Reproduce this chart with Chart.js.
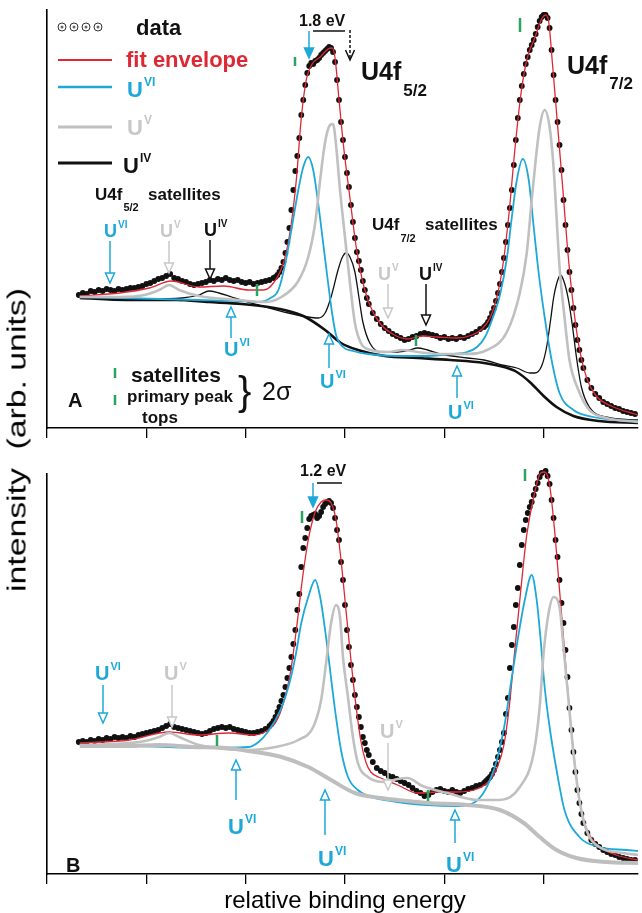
<!DOCTYPE html>
<html>
<head>
<meta charset="utf-8">
<script src="https://cdn.jsdelivr.net/npm/chart.js@4.4.1/dist/chart.umd.min.js"></script>
<style>
  body { margin: 0; background: #fff; }
  #wrap { position: relative; width: 642px; height: 913px; overflow: hidden; }
  canvas { position: absolute; left: 0; }
  #chartA { top: 0; }
  #chartB { top: 440px; }
  #ylabel {
    position: absolute; left: 17px; top: 440px; white-space: nowrap;
    font: 25px "Liberation Sans", Arial, sans-serif; color: #000;
    transform: translate(-50%, -50%) rotate(-90deg) scaleX(1.35);
  }
</style>
</head>
<body>
<div id="wrap">
  <canvas id="chartA" width="642" height="440"></canvas>
  <canvas id="chartB" width="642" height="473"></canvas>
  <div id="ylabel">intensity&nbsp; (arb. units)</div>
</div>
<script>
// x = relative binding energy (eV, arbitrary zero), y = intensity (arb. units)
const xTicks = [0, 5, 10, 15, 20, 25];

// ---- panel A ----
const dataA = [
  [1.6,133],[1.8,135],[2.0,134],[2.2,137],[2.4,136],[2.6,138],[2.8,137],[3.0,139],[3.2,138],[3.4,137],
  [3.6,139],[3.8,138],[4.0,139],[4.2,140],[4.4,140],[4.6,141],[4.8,142],[5.0,144],[5.2,145],[5.4,147],
  [5.6,149],[5.8,150],[6.0,152],[6.2,154],[6.4,150],[6.6,149],[6.8,147],[7.0,146],[7.2,144],[7.4,143],
  [7.6,144],[7.8,145],[8.0,146],[8.2,148],[8.4,147],[8.6,149],[8.8,148],[9.0,150],[9.2,148],[9.4,147],
  [9.6,148],[9.8,146],[10.0,145],[10.2,146],[10.4,144],[10.6,145],[10.8,146],[11.0,147],[11.2,148],[11.4,150],
  [11.5,151],[11.6,153],[11.7,156],[11.8,160],[11.9,166],[12.0,175],[12.1,186],[12.2,200],[12.3,218],[12.4,238],
  [12.5,257],[12.6,272],[12.7,290],[12.8,313],[12.9,328],[13.0,343],[13.1,355],[13.2,362],[13.3,365],[13.4,364],
  [13.5,367],[13.6,368],[13.7,370],[13.8,373],[13.9,375],[14.0,377],[14.1,379],[14.2,381],[14.3,380],[14.4,376],
  [14.5,366],[14.6,348],[14.7,328],[14.8,306],[14.9,288],[15.0,271],[15.1,255],[15.2,241],[15.3,223],[15.4,206],
  [15.5,190],[15.6,176],[15.7,167],[15.8,158],[15.9,147],[16.0,138],[16.1,130],[16.2,124],[16.4,115],[16.6,109],
  [16.8,104],[17.0,100],[17.2,97],[17.4,94],[17.6,92],[17.8,90],[18.0,88],[18.2,89],[18.4,91],[18.6,92],
  [18.8,94],[19.0,95],[19.2,94],[19.4,93],[19.6,92],[19.8,90],[20.0,91],[20.2,89],[20.4,90],[20.6,89],
  [20.8,91],[21.0,90],[21.2,92],[21.4,94],[21.6,96],[21.8,99],[22.0,101],[22.1,103],[22.2,106],[22.3,110],
  [22.4,115],[22.5,120],[22.6,127],[22.7,135],[22.8,144],[22.9,156],[23.0,170],[23.1,186],[23.2,203],[23.3,220],
  [23.4,238],[23.5,263],[23.6,288],[23.7,310],[23.8,328],[23.9,342],[24.0,354],[24.1,364],[24.2,371],[24.3,378],
  [24.4,383],[24.5,388],[24.6,394],[24.7,401],[24.8,407],[24.9,411],[25.0,413],[25.1,413],[25.2,410],[25.3,400],
  [25.4,378],[25.5,353],[25.6,328],[25.7,306],[25.8,283],[25.9,258],[26.0,228],[26.1,203],[26.2,178],[26.3,156],
  [26.4,138],[26.5,120],[26.6,103],[26.7,88],[26.8,78],[26.9,68],[27.0,60],[27.2,48],[27.4,40],[27.6,34],
  [27.8,30],[28.0,26],[28.2,24],[28.4,22],[28.6,20],[28.8,19],[29.0,17],[29.2,16],[29.4,15],[29.6,14]
];
const fitA = [
  [1.65,132],[3.65,135],[5.15,140],[6.25,147],[7.65,141],[8.9,142],[10.15,138],[10.9,138],[11.4,145],[11.9,165],
  [12.25,198],[12.55,248],[12.8,310],[13.05,348],[13.35,364],[13.75,371],[14.15,379],[14.35,380],[14.5,370],[14.7,328],
  [14.95,278],[15.25,230],[15.55,183],[15.85,150],[16.25,123],[16.75,105],[17.4,94],[18.15,89],[18.9,92],[19.65,91],
  [20.65,90],[21.4,93],[21.9,99],[22.3,110],[22.65,131],[22.95,163],[23.25,213],[23.55,278],[23.85,333],[24.15,368],
  [24.55,390],[24.9,409],[25.1,413],[25.25,407],[25.45,363],[25.7,303],[25.95,243],[26.2,180],[26.45,130],[26.75,85],
  [27.15,51],[27.65,32],[28.4,22],[29.75,13]
];
const u6A = [
  [1.65,131],[3.65,130],[5.65,129],[7.65,128],[9.65,127],[10.65,126],[11.25,130],[11.65,138],[12.0,165],[12.3,198],
  [12.65,238],[12.9,261],[13.15,271],[13.4,258],[13.65,225],[13.9,185],[14.15,145],[14.35,115],[14.55,93],[14.9,81],
  [15.4,77],[16.15,74],[17.65,72],[19.15,72],[20.4,74],[21.15,76],[21.65,81],[22.05,91],[22.4,108],[22.8,133],
  [23.15,170],[23.4,211],[23.65,248],[23.95,269],[24.25,248],[24.5,201],[24.75,155],[25.05,111],[25.4,68],[25.8,35],
  [26.5,18],[27.5,11],[28.65,8],[29.75,7]
];
const u5A = [
  [1.65,131],[3.65,131],[4.9,133],[5.65,138],[6.15,143],[6.65,138],[7.65,132],[9.65,128],[11.0,126],[11.8,131],
  [12.65,147],[13.15,171],[13.5,205],[13.75,248],[14.0,286],[14.25,303],[14.4,304],[14.55,283],[14.75,238],[15.0,191],
  [15.25,145],[15.5,105],[15.8,85],[16.3,78],[17.15,76],[17.9,78],[18.65,76],[19.9,74],[21.15,74],[22.15,78],
  [23.15,96],[23.8,135],[24.15,175],[24.4,228],[24.6,268],[24.8,301],[25.05,318],[25.3,301],[25.5,261],[25.65,211],
  [25.8,161],[26.05,111],[26.3,68],[26.75,38],[27.3,18],[28.15,10],[29.75,6]
];
const u4A = [
  [1.65,131],[5.15,129],[6.8,130],[7.65,133],[8.15,137],[8.65,135],[9.3,131],[10.65,123],[12.15,115],[13.15,111],
  [13.65,110],[14.0,115],[14.3,131],[14.65,158],[14.85,170],[15.05,175],[15.25,171],[15.5,156],[15.7,131],[15.9,106],
  [16.25,85],[16.8,76],[17.65,76],[18.25,78],[18.65,80],[19.15,78],[19.8,74],[21.15,70],[22.0,68],[22.9,63],
  [23.65,60],[24.3,55],[24.55,55],[24.9,62],[25.15,81],[25.35,108],[25.5,130],[25.65,144],[25.85,153],[26.05,145],
  [26.25,128],[26.45,102],[26.65,71],[26.9,41],[27.3,21],[28.15,11],[29.75,8]
];
const bgA = [
  [1.65,130],[4.0,128],[6.5,128],[8.15,126],[9.8,124],[11.15,121],[12.15,117],[13.0,111],[14.0,98],[14.8,85],
  [15.65,78],[17.0,72],[18.65,70],[20.3,68],[22.0,65],[23.0,61],[23.65,56],[24.3,46],[25.0,32],[25.65,21],
  [26.5,12],[27.8,7],[29.75,5]
];

// ---- panel B ----
const dataB = [
  [1.6,132],[1.8,133],[2.0,132],[2.2,134],[2.4,133],[2.6,135],[2.8,134],[3.0,136],[3.2,135],[3.4,137],
  [3.6,136],[3.8,137],[4.0,136],[4.2,138],[4.4,137],[4.6,139],[4.8,140],[5.0,141],[5.2,142],[5.4,143],
  [5.6,144],[5.8,146],[6.0,148],[6.2,150],[6.4,147],[6.6,146],[6.8,145],[7.0,144],[7.2,143],[7.4,142],
  [7.6,141],[7.8,140],[8.0,141],[8.2,143],[8.4,145],[8.6,146],[8.8,147],[9.0,146],[9.2,147],[9.4,145],
  [9.6,144],[9.8,143],[10.0,142],[10.2,141],[10.4,141],[10.6,142],[10.8,143],[11.0,145],[11.2,148],[11.3,150],
  [11.4,153],[11.5,157],[11.6,162],[11.7,167],[11.8,173],[11.9,179],[12.0,187],[12.1,196],[12.2,206],[12.3,217],
  [12.4,230],[12.5,244],[12.6,264],[12.7,280],[12.8,307],[12.9,326],[13.0,336],[13.1,346],[13.2,355],[13.3,358],
  [13.4,359],[13.5,360],[13.6,356],[13.7,358],[13.8,362],[13.9,367],[14.0,370],[14.1,372],[14.2,373],[14.3,371],
  [14.4,366],[14.5,356],[14.6,344],[14.7,334],[14.8,312],[14.9,294],[15.0,269],[15.1,244],[15.2,227],[15.3,209],
  [15.4,194],[15.5,179],[15.6,167],[15.7,157],[15.8,147],[15.9,137],[16.0,131],[16.1,124],[16.2,119],[16.4,112],
  [16.6,106],[16.8,103],[17.0,101],[17.2,98],[17.4,97],[17.6,95],[17.8,93],[18.0,91],[18.2,89],[18.4,86],
  [18.6,83],[18.8,81],[19.0,78],[19.2,79],[19.4,82],[19.6,84],[19.8,85],[20.0,83],[20.2,82],[20.4,84],
  [20.6,82],[20.8,81],[21.0,83],[21.2,85],[21.4,86],[21.6,88],[21.8,89],[22.0,91],[22.1,93],[22.2,95],
  [22.3,97],[22.4,100],[22.5,104],[22.6,110],[22.7,117],[22.8,124],[22.9,132],[23.0,141],[23.1,160],[23.2,176],
  [23.3,206],[23.4,229],[23.5,247],[23.6,269],[23.7,286],[23.8,309],[23.9,329],[24.0,344],[24.1,354],[24.2,361],
  [24.3,367],[24.4,372],[24.5,379],[24.6,385],[24.7,391],[24.8,397],[24.9,401],[25.0,404],[25.1,403],[25.2,398],
  [25.3,390],[25.4,374],[25.5,356],[25.6,334],[25.7,317],[25.8,294],[25.9,271],[26.0,251],[26.1,224],[26.2,197],
  [26.3,166],[26.4,144],[26.5,122],[26.6,102],[26.7,84],[26.8,71],[26.9,60],[27.0,51],[27.2,41],[27.4,34],
  [27.6,30],[27.8,27],[28.0,24],[28.2,22],[28.4,20],[28.6,19],[28.8,17],[29.0,16],[29.2,15],[29.4,14],[29.6,14]
];
const fitB = [
  [1.65,131],[4.15,134],[6.15,142],[7.65,139],[9.15,141],[10.4,139],[11.05,143],[11.55,153],[11.9,171],[12.25,201],
  [12.55,244],[12.85,294],[13.15,334],[13.5,362],[13.8,372],[14.05,374],[14.3,371],[14.55,354],[14.8,314],[15.05,264],
  [15.3,214],[15.55,169],[15.8,133],[16.05,112],[16.3,102],[16.8,96],[17.65,89],[18.65,81],[19.65,82],[20.65,82],
  [21.65,85],[22.25,93],[22.65,106],[23.0,129],[23.25,164],[23.55,224],[23.85,284],[24.15,339],[24.5,377],[24.85,401],
  [25.05,402],[25.3,389],[25.55,344],[25.8,284],[26.05,224],[26.3,164],[26.55,114],[26.8,74],[27.15,46],[27.65,30],
  [28.65,19],[29.75,14]
];
const u6B = [
  [1.65,129],[4.65,128],[7.65,126],[10.15,127],[10.65,132],[11.15,143],[11.75,164],[12.15,187],[12.5,217],[12.8,251],
  [13.15,277],[13.5,294],[13.75,277],[14.0,244],[14.25,204],[14.5,164],[14.8,124],[15.15,97],[15.65,84],[16.3,77],
  [17.65,72],[19.15,69],[20.65,68],[21.55,72],[22.0,82],[22.3,94],[22.65,114],[23.05,151],[23.4,197],[23.75,241],
  [24.05,274],[24.4,299],[24.65,274],[24.85,234],[25.05,187],[25.3,147],[25.65,104],[26.05,64],[26.8,37],[27.8,27],
  [29.15,24],[29.75,23]
];
const u5B = [
  [1.65,129],[4.65,132],[5.65,137],[6.15,141],[6.65,137],[7.65,129],[10.15,124],[11.5,127],[12.65,134],[13.4,147],
  [13.8,174],[14.05,211],[14.3,251],[14.55,269],[14.75,257],[14.9,217],[15.15,177],[15.4,137],[15.65,111],[16.15,97],
  [17.0,92],[17.65,95],[18.15,96],[18.9,88],[20.15,81],[21.65,74],[22.8,74],[23.8,87],[24.5,121],[24.8,167],
  [25.0,221],[25.25,261],[25.5,277],[25.8,267],[26.0,227],[26.25,174],[26.5,121],[26.8,74],[27.15,44],[27.8,27],
  [29.0,21],[29.75,19]
];
const bgB = [
  [1.65,128],[4.0,128],[5.65,129],[7.3,127],[9.0,126],[10.15,123],[11.8,117],[13.15,107],[14.3,94],[15.5,81],
  [16.8,76],[17.65,74],[19.15,71],[21.15,69],[22.8,64],[24.0,51],[24.8,37],[25.65,24],[26.65,16],[28.15,12],
  [29.75,11]
];

const FONT = '"Liberation Sans", Arial, Helvetica, sans-serif';
const CYAN = "rgb(30,168,216)";
const GRAY = "rgb(192,192,192)";
const RED = "rgb(222,40,52)";
const GREEN = "rgb(40,165,95)";

const pts = (arr) => arr.map(([x, y]) => ({ x, y }));

function curve(arr, color, width) {
  return {
    data: pts(arr), showLine: true, borderColor: color, borderWidth: width,
    pointRadius: 0, cubicInterpolationMode: "monotone", clip: false,
  };
}
function dots(arr) {
  return {
    data: pts(arr), showLine: false, pointRadius: 2.9, pointBackgroundColor: "#111",
    pointBorderWidth: 0, clip: false,
  };
}

// ---- drawing helpers for the annotations ----
function txt(ctx, s, x, y, size, color, bold) {
  ctx.font = (bold === false ? "" : "bold ") + size + "px " + FONT;
  ctx.fillStyle = color;
  ctx.fillText(s, x, y);
  return ctx.measureText(s).width;
}
function uLabel(ctx, x, y, sup, color, size) {
  const w = txt(ctx, "U", x, y, size, color);
  txt(ctx, sup, x + w + 1, y - size * 0.5, Math.round(size * 0.55), color);
}
function arrow(ctx, x, yFrom, yTo, color, head, dash) {
  const dir = Math.sign(yTo - yFrom), hl = 10, hw = 4.5;
  ctx.save();
  ctx.strokeStyle = color;
  ctx.lineWidth = 1.5;
  if (dash) ctx.setLineDash(dash);
  ctx.beginPath();
  ctx.moveTo(x, yFrom);
  ctx.lineTo(x, head === "v" ? yTo : yTo - dir * hl);
  ctx.stroke();
  ctx.setLineDash([]);
  ctx.beginPath();
  if (head === "v") {
    ctx.moveTo(x - hw, yTo - dir * hl); ctx.lineTo(x, yTo); ctx.lineTo(x + hw, yTo - dir * hl);
    ctx.stroke();
  } else {
    ctx.moveTo(x, yTo); ctx.lineTo(x - hw, yTo - dir * hl); ctx.lineTo(x + hw, yTo - dir * hl);
    ctx.closePath();
    ctx.fillStyle = head === "fill" ? color : "#fff";
    ctx.fill();
    ctx.stroke();
  }
  ctx.restore();
}
function tick(ctx, x, y1, y2) {
  ctx.save();
  ctx.strokeStyle = GREEN; ctx.lineWidth = 2.5;
  ctx.beginPath(); ctx.moveTo(x, y1); ctx.lineTo(x, y2); ctx.stroke();
  ctx.restore();
}
function hline(ctx, x1, x2, y, color, w) {
  ctx.save();
  ctx.strokeStyle = color; ctx.lineWidth = w;
  ctx.beginPath(); ctx.moveTo(x1, y); ctx.lineTo(x2, y); ctx.stroke();
  ctx.restore();
}

function axes(ymax, xHeight) {
  return {
    x: {
      type: "linear", min: 0, max: 29.75,
      afterBuildTicks: (s) => { s.ticks = xTicks.map((v) => ({ value: v })); },
      afterFit: (s) => { s.height = xHeight; },
      ticks: { display: false },
      grid: { drawOnChartArea: false, drawTicks: true, tickLength: 10, color: "#000", lineWidth: 1.3 },
      border: { color: "#000", width: 1.6 },
    },
    y: {
      type: "linear", min: 0, max: ymax,
      afterFit: (s) => { s.width = 0; },
      ticks: { display: false },
      grid: { display: false },
      border: { color: "#000", width: 1.6 },
    },
  };
}

const annotA = {
  id: "annotA",
  afterDatasetsDraw(chart) {
    const ctx = chart.ctx;
    ctx.save();
    ctx.textBaseline = "alphabetic";
    // legend
    ctx.strokeStyle = "#333"; ctx.lineWidth = 1;
    [62, 74, 86, 98].forEach((cx) => {
      ctx.beginPath(); ctx.arc(cx, 27, 4, 0, 2 * Math.PI); ctx.fillStyle = "#fff"; ctx.fill(); ctx.stroke();
      ctx.beginPath(); ctx.arc(cx, 27, 1.5, 0, 2 * Math.PI); ctx.fillStyle = "#666"; ctx.fill();
    });
    txt(ctx, "data", 136, 35, 22, "#111");
    hline(ctx, 58, 112, 60, RED, 2);
    txt(ctx, "fit envelope", 126, 67, 22, RED);
    hline(ctx, 58, 112, 87, CYAN, 2.5);
    uLabel(ctx, 127, 97, "VI", CYAN, 22);
    hline(ctx, 58, 112, 127, GRAY, 3);
    uLabel(ctx, 127, 135, "V", "rgb(200,200,200)", 22);
    hline(ctx, 58, 112, 163, "#111", 3);
    uLabel(ctx, 123, 173, "IV", "#111", 22);

    // 1.8 eV splitting
    txt(ctx, "1.8 eV", 299, 26, 16, "#111");
    hline(ctx, 313, 345, 31, "#111", 1.5);
    arrow(ctx, 309, 31, 58, CYAN, "fill");
    arrow(ctx, 350, 30, 60, "#111", "v", [3, 2]);
    tick(ctx, 295, 57, 66);
    tick(ctx, 520, 18, 32);

    // peak labels
    let w = txt(ctx, "U4f", 361, 80, 25, "#111");
    txt(ctx, "5/2", 361 + w + 2, 96, 17, "#111");
    w = txt(ctx, "U4f", 567, 74, 25, "#111");
    txt(ctx, "7/2", 567 + w + 2, 89, 17, "#111");

    w = txt(ctx, "U4f", 95, 200, 17, "#111");
    txt(ctx, "5/2", 95 + w + 1, 211, 11, "#111");
    txt(ctx, "satellites", 148, 200, 17, "#111");
    w = txt(ctx, "U4f", 372, 230, 17, "#111");
    txt(ctx, "7/2", 372 + w + 1, 242, 11, "#111");
    txt(ctx, "satellites", 425, 230, 17, "#111");

    // satellite arrows
    uLabel(ctx, 104, 237, "VI", CYAN, 18);
    arrow(ctx, 110, 241, 283, CYAN, "open");
    uLabel(ctx, 160, 237, "V", "rgb(200,200,200)", 18);
    arrow(ctx, 169, 241, 273, "rgb(200,200,200)", "open");
    uLabel(ctx, 204, 236, "IV", "#111", 18);
    arrow(ctx, 210, 240, 279, "#111", "open");
    uLabel(ctx, 378, 280, "V", "rgb(200,200,200)", 18);
    arrow(ctx, 388, 284, 318, "rgb(200,200,200)", "open");
    uLabel(ctx, 419, 280, "IV", "#111", 18);
    arrow(ctx, 426, 284, 325, "#111", "open");
    tick(ctx, 257, 284, 296);
    tick(ctx, 416, 335, 346);

    arrow(ctx, 231, 338, 307, CYAN, "open");
    uLabel(ctx, 224, 356, "VI", CYAN, 20);
    arrow(ctx, 329, 368, 334, CYAN, "open");
    uLabel(ctx, 320, 388, "VI", CYAN, 20);
    arrow(ctx, 457, 398, 366, CYAN, "open");
    uLabel(ctx, 448, 419, "VI", CYAN, 20);

    // bottom-left key
    txt(ctx, "A", 68, 407, 20, "#111");
    tick(ctx, 115, 368, 378);
    tick(ctx, 115, 395, 405);
    txt(ctx, "satellites", 131, 382, 21, "#111");
    txt(ctx, "primary peak", 127, 402, 17, "#111");
    txt(ctx, "tops", 142, 423, 17, "#111");
    txt(ctx, "}", 238, 405, 40, "#111", false);
    txt(ctx, "2\u03c3", 262, 400, 25, "#111", false);
    ctx.restore();
  },
};

const annotB = {
  id: "annotB",
  afterDatasetsDraw(chart) {
    const ctx = chart.ctx;
    ctx.save();
    ctx.translate(0, -440); // page coordinates
    txt(ctx, "1.2 eV", 300, 476, 16, "#111");
    hline(ctx, 317, 342, 483, "#111", 1.5);
    arrow(ctx, 313, 483, 507, CYAN, "fill");
    tick(ctx, 302, 511, 523);
    tick(ctx, 525, 469, 481);
    tick(ctx, 217, 735, 746);
    tick(ctx, 428, 790, 801);

    uLabel(ctx, 95, 680, "VI", CYAN, 20);
    arrow(ctx, 103, 685, 723, CYAN, "open");
    uLabel(ctx, 164, 680, "V", "rgb(200,200,200)", 20);
    arrow(ctx, 172, 685, 727, "rgb(200,200,200)", "open");
    uLabel(ctx, 380, 738, "V", "rgb(200,200,200)", 20);
    arrow(ctx, 388, 743, 790, "rgb(200,200,200)", "open");

    arrow(ctx, 236, 800, 760, CYAN, "open");
    uLabel(ctx, 228, 834, "VI", CYAN, 22);
    arrow(ctx, 325, 835, 790, CYAN, "open");
    uLabel(ctx, 318, 866, "VI", CYAN, 22);
    arrow(ctx, 455, 843, 810, CYAN, "open");
    uLabel(ctx, 446, 872, "VI", CYAN, 22);

    txt(ctx, "B", 66, 872, 20, "#111");
    ctx.textAlign = "center";
    txt(ctx, "relative binding energy", 345, 908, 24, "#000", false);
    ctx.restore();
  },
};

const baseOpts = {
  animation: false, responsive: false, maintainAspectRatio: false,
  plugins: { legend: { display: false }, tooltip: { enabled: false } },
};

new Chart(document.getElementById("chartA"), {
  type: "scatter",
  data: {
    datasets: [
      curve(u5A, GRAY, 2.6),
      curve(u6A, CYAN, 1.8),
      curve(u4A, "#111", 1.3),
      curve(bgA, "#111", 2.6),
      curve(fitA, RED, 1.3),
      dots(dataA),
    ],
  },
  options: Object.assign({}, baseOpts, {
    layout: { padding: { left: 47, top: 10, right: 0, bottom: 0 } },
    scales: axes(418, 12),
  }),
  plugins: [annotA],
});

new Chart(document.getElementById("chartB"), {
  type: "scatter",
  data: {
    datasets: [
      curve(bgB, "rgb(190,190,190)", 4),
      curve(u5B, GRAY, 2.6),
      curve(u6B, CYAN, 1.8),
      curve(fitB, RED, 1.3),
      dots(dataB),
    ],
  },
  options: Object.assign({}, baseOpts, {
    layout: { padding: { left: 47, top: 34, right: 0, bottom: 0 } },
    scales: axes(400, 39),
  }),
  plugins: [annotB],
});
</script>
</body>
</html>
